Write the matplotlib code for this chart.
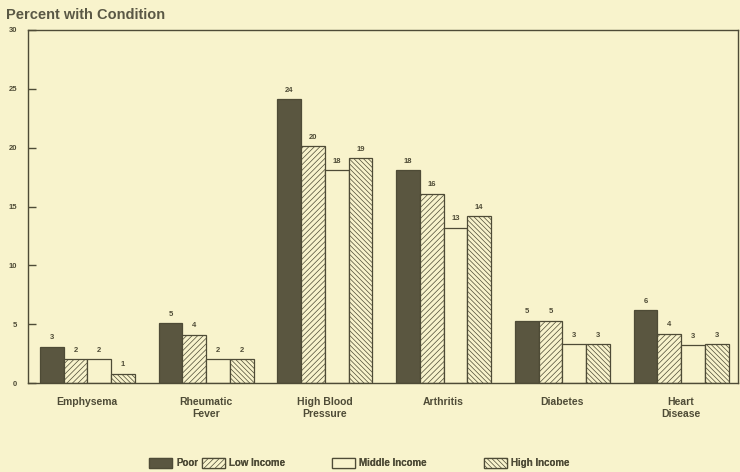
import numpy as np
import matplotlib
matplotlib.use("Agg")
from matplotlib import pyplot as plt
from matplotlib.patches import Patch

conditions = ["Emphysema", "Rheumatic\nFever", "High Blood\nPressure", "Arthritis", "Diabetes", "Heart\nDisease"]
series = ["Poor", "Low Income", "Middle Income", "High Income"]
poor = [3.1, 5.1, 24.1, 18.1, 5.3, 6.2]
low_income = [2.0, 4.1, 20.1, 16.1, 5.3, 4.2]
middle_income = [2.0, 2.0, 18.1, 13.2, 3.3, 3.2]
high_income = [0.8, 2.0, 19.1, 14.2, 3.3, 3.3]
bar_labels = [
	[3, 5, 24, 18, 5, 6],
	[2, 4, 20, 16, 5, 4],
	[2, 2, 18, 13, 3, 3],
	[1, 2, 19, 14, 3, 3],
]
y_ticks = [0, 5, 10, 15, 20, 25, 30]

bg = "#f8f3cc"
ink = "#4e4b36"
dark = "#5a5640"

plt.rcParams['hatch.linewidth'] = 0.5
plt.rcParams['hatch.color'] = "#5e5b45"
plt.rcParams['font.family'] = ['Liberation Sans', 'DejaVu Sans']

fig = plt.figure(figsize=(7.4, 4.72), dpi=100, facecolor=bg)
ax = fig.add_axes([28/740, 1-383/472, 710/740, 353/472])
ax.set_facecolor(bg)

styles = [
	dict(color=dark, hatch=None),
	dict(color=bg, hatch="//////"),
	dict(color=bg, hatch=None),
	dict(color=bg, hatch="\\\\\\\\\\\\\\"),
]
values = [poor, low_income, middle_income, high_income]
x = np.arange(len(conditions)) * 5
for j, vals in enumerate(values):
	ax.bar(x + j + 0.5, vals, width=1.0, color=styles[j]['color'], hatch=styles[j]['hatch'],
		edgecolor=ink, linewidth=0.9)
	for xi, v, lab in zip(x + j + 0.5, vals, bar_labels[j]):
		ax.text(xi, v + 0.45, str(lab), ha='center', va='bottom', fontsize=5.5,
			color=ink, fontweight='bold')

ax.set_xlim(-0.5, 29.4)
ax.set_ylim(0, 30)
ax.set_yticks(y_ticks)
ax.set_yticklabels([str(t) for t in y_ticks], fontsize=5.5, color=ink, fontweight='bold')
ax.tick_params(axis='y', direction='in', length=6, width=1, color=ink, pad=8)
ax.set_xticks(x + 2)
ax.set_xticklabels(conditions, fontsize=7.5, color=ink, fontweight='bold', linespacing=1.3)
ax.tick_params(axis='x', length=0, pad=10)
for s in ax.spines.values():
	s.set_color(ink)
	s.set_linewidth(1)

fig.text(6/740, 1-15/472, "Percent with Condition", fontsize=10.5, fontweight='bold',
	color="#5a5845", va='center', ha='left')

# legend entries sit at uneven spacing in the original, so one legend each
legend_left = [146, 199, 329, 481]
for j in range(4):
	h = Patch(facecolor=styles[j]['color'], hatch=styles[j]['hatch'], edgecolor=ink, linewidth=0.9)
	leg = fig.legend([h], [series[j]], loc='center left', bbox_to_anchor=(legend_left[j]/740, 1-463/472),
		frameon=False, handlelength=2.4, handleheight=1.2, handletextpad=0.4,
		borderpad=0, borderaxespad=0.3, labelcolor=ink, prop={'weight': 'bold', 'size': 7})
	fig.add_artist(leg)

fig.savefig("out.png", dpi=100, facecolor=bg)
